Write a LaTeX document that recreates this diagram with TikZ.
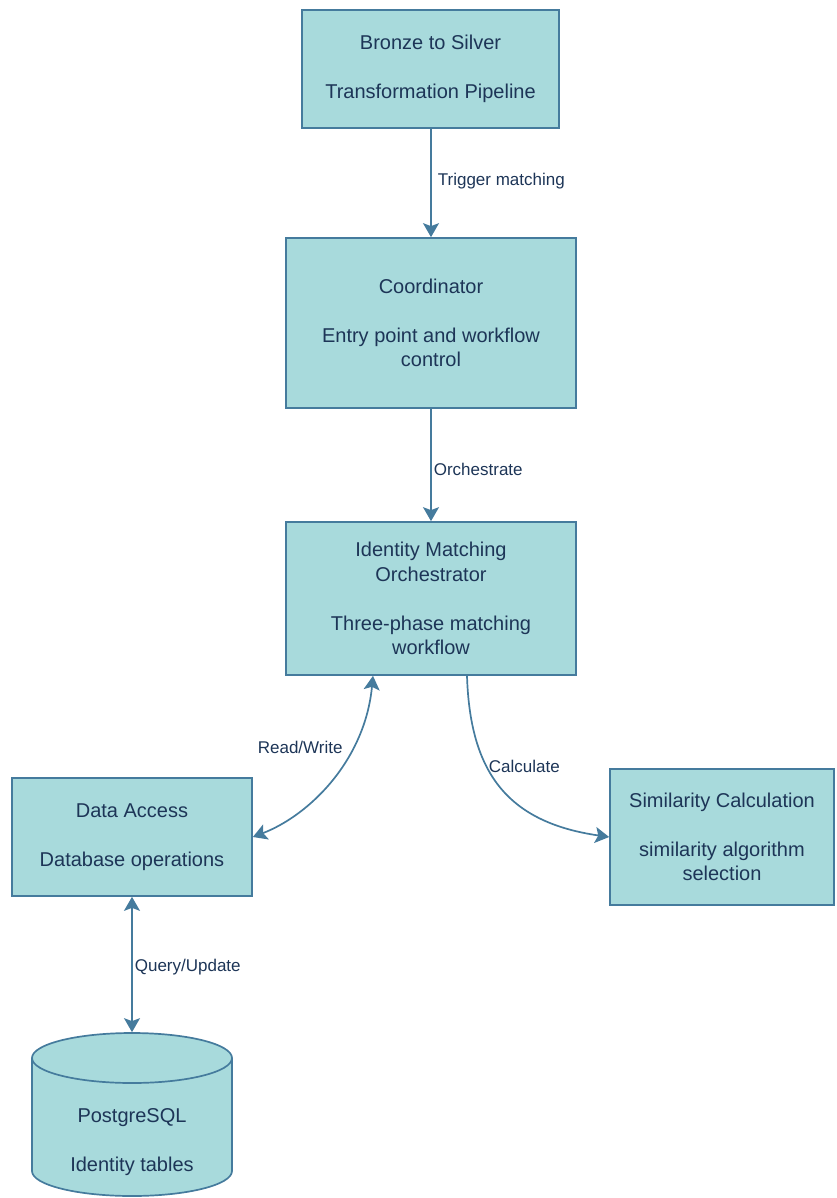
\documentclass[tikz,border=0pt]{standalone}
\usepackage{fontspec}
\setmainfont{Liberation Sans}
\usetikzlibrary{arrows.meta}
\definecolor{boxfill}{HTML}{A8DADC}
\definecolor{boxline}{HTML}{457B9D}
\definecolor{boxtext}{HTML}{1D3557}
\begin{document}
\begin{tikzpicture}[x=1pt,y=-1pt,line width=1.7pt,
    box/.style={draw=boxline,fill=boxfill,text=boxtext,align=center,inner sep=0pt,font=\fontsize{20}{24.5}\selectfont},
    lbl/.style={text=boxtext,anchor=west,inner sep=0pt,font=\fontsize{17}{20}\selectfont},
    conn/.style={draw=boxline,-{Stealth[length=14pt,width=16pt,inset=3pt]}},
    both/.style={draw=boxline,{Stealth[length=14pt,width=16pt,inset=3pt]}-{Stealth[length=14pt,width=16pt,inset=3pt]}}]
      \useasboundingbox (0,0) rectangle (836,1198);

      \path (430.5,69) node[box,minimum width=257,minimum height=118] (bronze) {Bronze to Silver\\[24.5pt]Transformation Pipeline};
      \path (431,323) node[box,minimum width=290,minimum height=170] (coord) {Coordinator\\[24.5pt]Entry point and workflow\\control};
      \path (431,598.5) node[box,minimum width=290,minimum height=153] (orch) {Identity Matching\\Orchestrator\\[24.5pt]Three-phase matching\\workflow};
      \path (132,837) node[box,minimum width=240,minimum height=118] (data) {Data Access\\[24.5pt]Database operations};
      \path (722,837) node[box,minimum width=224,minimum height=136] (simil) {Similarity Calculation\\[24.5pt]similarity algorithm\\selection};

      % database cylinder
      \path[draw=boxline,fill=boxfill] (32,1058) -- (32,1171) arc[start angle=180,end angle=360,x radius=100pt,y radius=25pt]
        -- (232,1058) arc[start angle=0,end angle=180,x radius=100pt,y radius=25pt] -- cycle;
      \draw[boxline] (32,1058) arc[start angle=180,end angle=360,x radius=100pt,y radius=25pt];
      \path (132,1114.5) node[minimum width=200,minimum height=163,inner sep=0pt] (pg) {};
      \path (132,1142) node[text=boxtext,align=center,inner sep=0pt,font=\fontsize{20}{24.5}\selectfont] (pgtext) {PostgreSQL\\[24.5pt]Identity tables};

      \draw[conn] (bronze.south -| coord.north) -- (coord.north); %bronze-coord
      \draw[conn] (coord.south) -- (orch.north); %coord-orch
      \draw[both] ([xshift=-58pt]orch.south) .. controls (365,760) and (310,815) .. (data.east); %orch-data
      \draw[conn] ([xshift=36pt]orch.south) .. controls (470,770) and (505,822) .. (simil.west); %orch-simil
      \draw[both] (data.south) -- (data.south |- pg.north); %data-pg

      \path (437,181) node[lbl] (trig) {Trigger matching};
      \path (433,469) node[lbl] (orchlbl) {Orchestrate};
      \path (257,747) node[lbl] (rw) {Read/Write};
      \path (488,766) node[lbl] (calc) {Calculate};
      \path (134,967) node[lbl] (qu) {Query/Update};

    \end{tikzpicture}
\end{document}
